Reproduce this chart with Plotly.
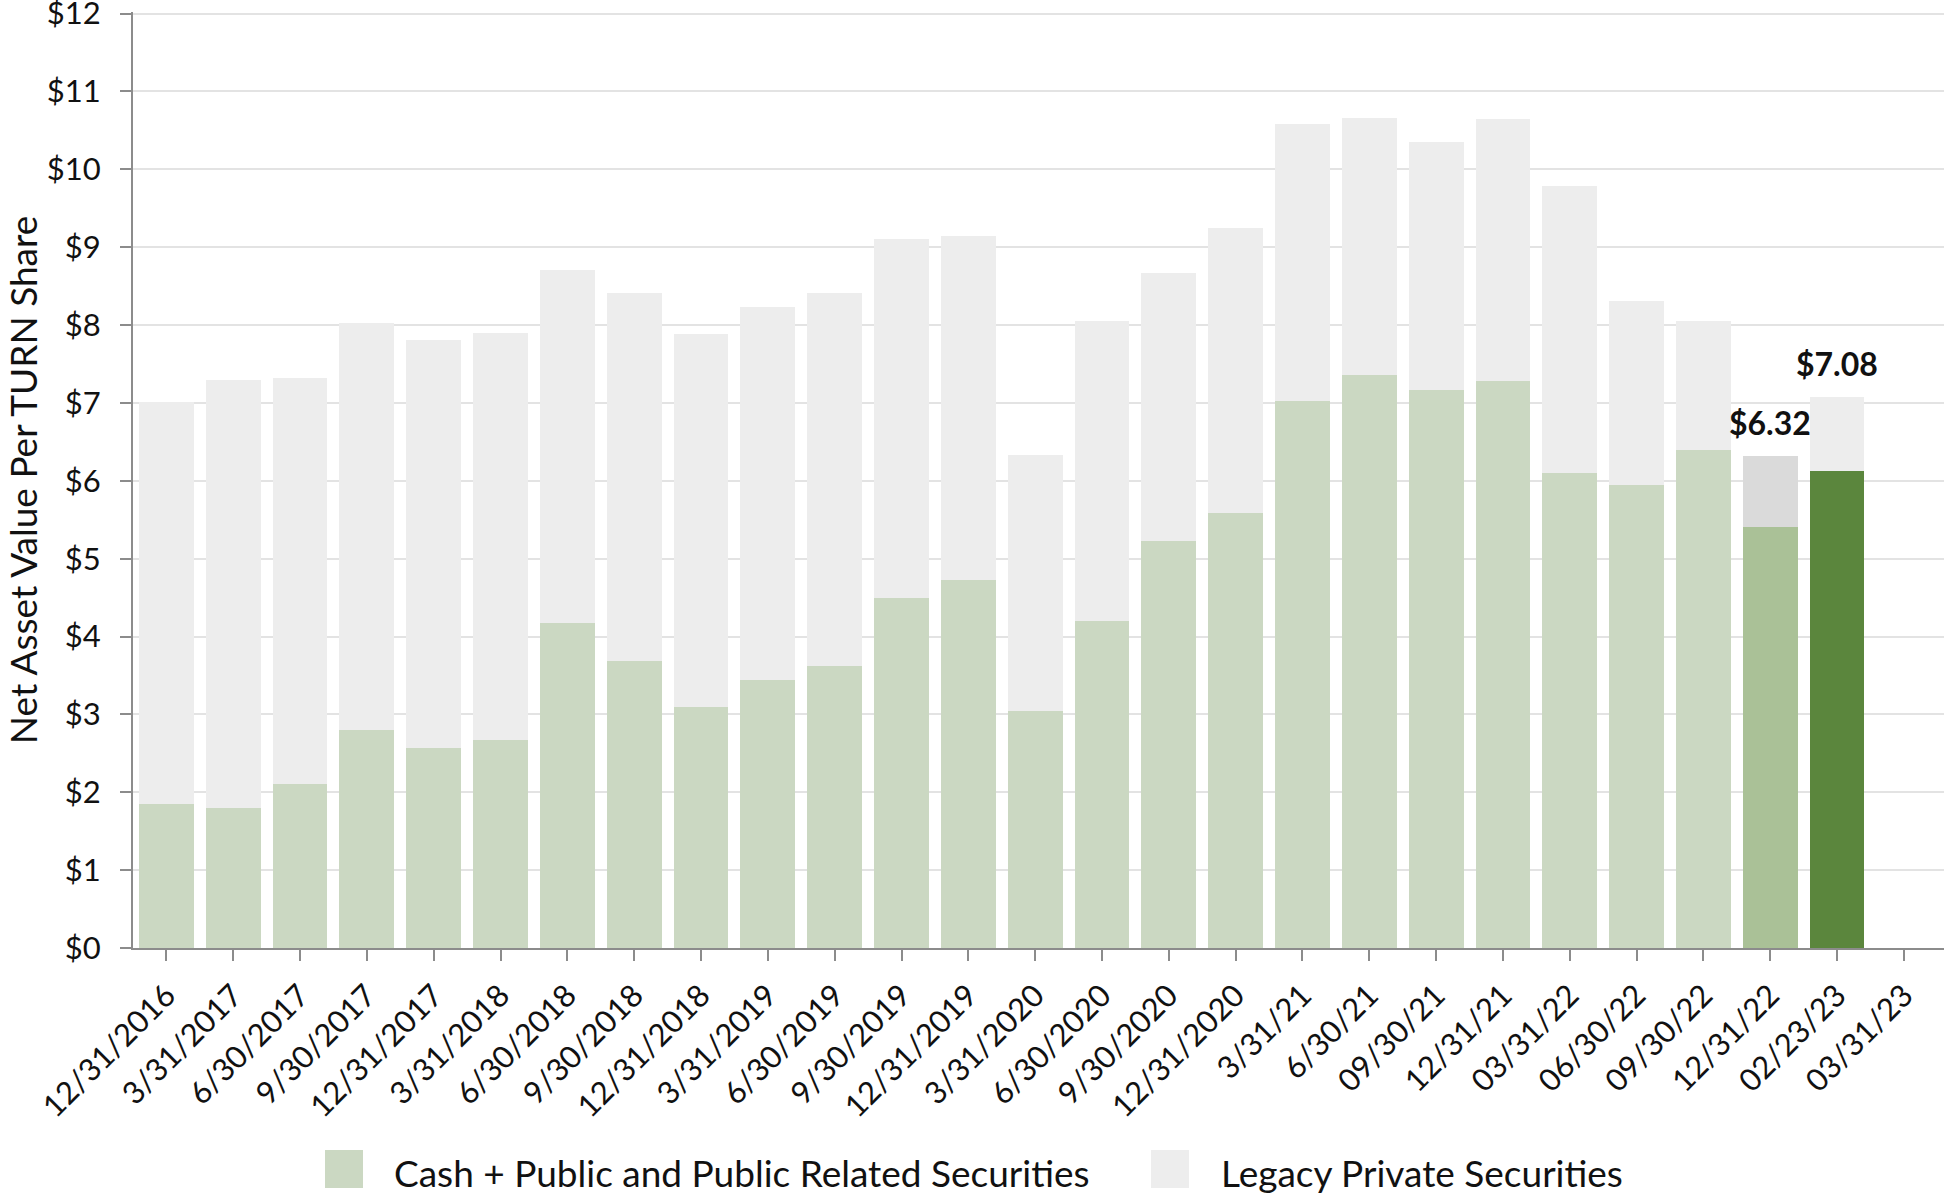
import plotly.graph_objects as go

categories = ["12/31/2016", "3/31/2017", "6/30/2017", "9/30/2017", "12/31/2017", "3/31/2018",
              "6/30/2018", "9/30/2018", "12/31/2018", "3/31/2019", "6/30/2019", "9/30/2019",
              "12/31/2019", "3/31/2020", "6/30/2020", "9/30/2020", "12/31/2020", "3/31/21",
              "6/30/21", "09/30/21", "12/31/21", "03/31/22", "06/30/22", "09/30/22",
              "12/31/22", "02/23/23", "03/31/23"]

cash_public = [1.85, 1.80, 2.11, 2.80, 2.57, 2.67, 4.17, 3.68, 3.10, 3.44, 3.62, 4.49, 4.72, 3.05,
               4.20, 5.23, 5.59, 7.03, 7.36, 7.16, 7.28, 6.10, 5.95, 6.39, 5.41, 6.13, None]
legacy_private = [5.16, 5.49, 5.21, 5.22, 5.24, 5.23, 4.54, 4.73, 4.78, 4.79, 4.79, 4.61, 4.42, 3.28,
                  3.85, 3.44, 3.65, 3.55, 3.30, 3.19, 3.36, 3.69, 2.36, 1.66, 0.91, 0.95, None]

label_categories = ["12/31/22", "02/23/23"]
label_totals = [6.32, 7.08]
label_texts = ["$6.32", "$7.08"]

y_ticks = list(range(0, 13))
y_tick_labels = ["$" + str(v) for v in y_ticks]

FONT = "Lato, 'Open Sans', sans-serif"
W, H = 1944, 1196
ML, MR, MT, MB = 133, 0, 12, 248

green_colors = []
gray_colors = []
for c in categories:
    if c == "12/31/22":
        green_colors.append("#aac197")
        gray_colors.append("#dadada")
    elif c == "02/23/23":
        green_colors.append("#5b863d")
        gray_colors.append("#ededed")
    else:
        green_colors.append("#cbd8c2")
        gray_colors.append("#ededed")

fig = go.Figure()
fig.add_trace(go.Bar(x=categories, y=cash_public, name="Cash + Public and Public Related Securities",
                     marker=dict(color=green_colors, line=dict(width=0)), hoverinfo="x+y"))
fig.add_trace(go.Bar(x=categories, y=legacy_private, name="Legacy Private Securities",
                     marker=dict(color=gray_colors, line=dict(width=0)), hoverinfo="x+y"))

for cat, tot, txt in zip(label_categories, label_totals, label_texts):
    fig.add_annotation(x=cat, y=tot, text="<b>" + txt + "</b>", showarrow=False,
                       yanchor="bottom", yshift=12, xshift=0,
                       font=dict(family=FONT, size=32, color="#111111"))


def px_x(px):
    return (px - ML) / (W - ML - MR)


def px_y(py):
    return (H - MB - py) / (H - MT - MB)


# custom legend with large swatches
legend_items = [("Cash + Public and Public Related Securities", "#cbd8c2", 325, 392),
                ("Legacy Private Securities", "#ededed", 1151, 1219)]
for name, col, sx, tx in legend_items:
    fig.add_shape(type="rect", xref="paper", yref="paper",
                  x0=px_x(sx), x1=px_x(sx + 38), y0=px_y(1188), y1=px_y(1150),
                  fillcolor=col, line=dict(width=0))
    fig.add_annotation(xref="paper", yref="paper", x=px_x(tx), y=px_y(1172), text=name,
                       showarrow=False, xanchor="left", yanchor="middle",
                       font=dict(family=FONT, size=37, color="#111111"))

fig.update_layout(
    barmode="stack",
    bargap=0.18,
    width=W, height=H,
    margin=dict(l=ML, r=MR, t=MT, b=MB, autoexpand=False),
    paper_bgcolor="white", plot_bgcolor="white",
    showlegend=False,
    font=dict(family=FONT, size=31, color="#111111"),
    xaxis=dict(type="category", range=[-0.5, 26.6], tickangle=-45,
               showline=True, linecolor="#8c8c8c", linewidth=2,
               ticks="outside", ticklen=11, tickwidth=2, tickcolor="#8c8c8c",
               ticklabelstandoff=4,
               tickfont=dict(family=FONT, size=31, color="#111111"), showgrid=False),
    yaxis=dict(range=[0, 12.02], tickvals=y_ticks, ticktext=y_tick_labels,
               showline=True, linecolor="#8c8c8c", linewidth=2,
               ticks="outside", ticklen=11, tickwidth=2, tickcolor="#8c8c8c",
               ticklabelstandoff=13, ticklabeloverflow="allow",
               showgrid=True, gridcolor="#e3e3e3", gridwidth=2, zeroline=False,
               tickfont=dict(family=FONT, size=31, color="#111111"),
               title=dict(text="Net Asset Value Per TURN Share",
                          font=dict(family=FONT, size=37, color="#111111"), standoff=18)),
)

fig.write_html("out.html")
